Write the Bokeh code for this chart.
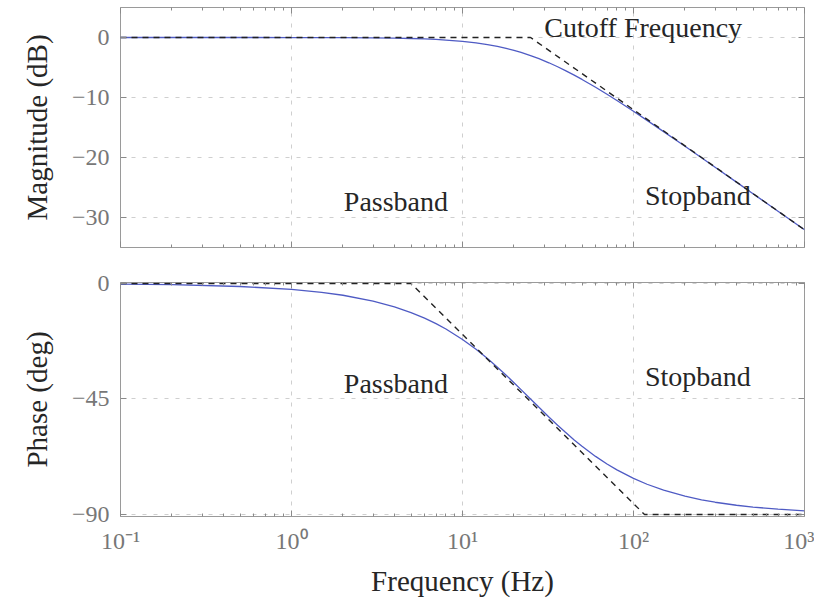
from bokeh.plotting import figure
from bokeh.layouts import column
from bokeh.models import (Range1d, FixedTicker, LogAxis, LinearAxis,
                          CustomJSTickFormatter)
from bokeh.core.properties import value
from bokeh.embed import file_html
from bokeh.resources import INLINE

# ---- data ----
freq_hz = [0.1, 0.2, 0.5, 1, 1.5, 2, 3, 4, 5, 6, 7, 8, 10, 12, 14, 16, 18, 20,
           22, 25, 28, 32, 36, 40, 45, 50, 60, 70, 80, 100, 120, 150, 200, 250,
           300, 400, 500, 700, 1000]
magnitude_db = [0.0, 0.0, -0.002, -0.007, -0.016, -0.028, -0.062, -0.11, -0.17,
                -0.243, -0.328, -0.423, -0.645, -0.9, -1.184, -1.492, -1.814,
                -2.148, -2.49, -3.01, -3.531, -4.213, -4.877, -5.515, -6.274,
                -6.99, -8.299, -9.464, -10.507, -12.304, -13.809, -15.682,
                -18.129, -20.043, -21.614, -24.1, -26.031, -28.949, -32.04]
phase_deg = [-0.23, -0.46, -1.15, -2.29, -3.43, -4.57, -6.84, -9.09, -11.31,
             -13.5, -15.64, -17.74, -21.8, -25.64, -29.25, -32.62, -35.75,
             -38.66, -41.35, -45.0, -48.24, -52.0, -55.22, -57.99, -60.95,
             -63.43, -67.38, -70.35, -72.65, -75.96, -78.23, -80.54, -82.87,
             -84.29, -85.24, -86.42, -87.14, -87.95, -88.57]
mag_asym_freq = [0.1, 25, 1000]
mag_asym_db = [0, 0, -32.04]
phase_asym_freq = [0.1, 5, 116, 1000]
phase_asym_deg = [0, 0, -90, -90]
mag_ticks = [-30, -20, -10, 0]
phase_ticks = [-90, -45, 0]
decade_ticks = [0.1, 1, 10, 100, 1000]

FONT = "Liberation Serif"
TICK_COLOR = "#8a8a8a"
LABEL_COLOR = "#777777"
CURVE_COLOR = "#4f5bc4"
TEXT_SIZE = "28px"

minor_x = [m * d for d in decade_ticks[:-1] for m in range(2, 10)]

X_CODE = """
const e = Math.round(Math.log10(tick));
const sup = {"-": "\\u207B", "0": "\\u2070", "1": "\\u00B9", "2": "\\u00B2", "3": "\\u00B3"};
let s = "";
for (const c of String(e)) { s += sup[c]; }
return "10" + s;
"""
Y_CODE = """
return tick < 0 ? "\\u2212" + Math.abs(tick) : String(tick);
"""


def style_axis(ax, show_labels):
    ax.axis_line_color = None
    ax.major_tick_in = 6
    ax.major_tick_out = 0
    ax.minor_tick_in = 3
    ax.minor_tick_out = 0
    ax.major_tick_line_color = TICK_COLOR
    ax.minor_tick_line_color = TICK_COLOR
    ax.major_label_text_font = FONT
    ax.major_label_text_color = LABEL_COLOR
    if show_labels:
        ax.major_label_text_font_size = "24px"
        ax.major_label_standoff = 11
    else:
        ax.major_label_text_font_size = "1px"
        ax.major_label_text_alpha = 0
        ax.major_label_standoff = 0
    ax.axis_label_text_font = FONT
    ax.axis_label_text_font_style = "normal"
    ax.axis_label_text_font_size = "29px"
    ax.axis_label_text_color = "#262626"
    ax.axis_label_standoff = 16


def make_fig(height, y_range, yticks, ylabel, show_x, border_top, border_bottom):
    p = figure(width=814, height=height, x_axis_type="log",
               x_range=Range1d(0.1, 1000), y_range=y_range,
               output_backend="svg", toolbar_location=None,
               min_border_left=120, min_border_right=10,
               min_border_top=border_top, min_border_bottom=border_bottom)
    p.outline_line_color = "#9a9a9a"
    p.outline_line_width = 1
    p.background_fill_color = "white"
    p.border_fill_color = "white"

    xa = p.xaxis[0]
    xa.ticker = FixedTicker(ticks=decade_ticks, minor_ticks=minor_x)
    xa.formatter = CustomJSTickFormatter(code=X_CODE)
    style_axis(xa, show_x)
    if show_x:
        xa.axis_label = "Frequency (Hz)"
        xa.axis_label_standoff = 8

    ya = p.yaxis[0]
    ya.ticker = FixedTicker(ticks=yticks)
    ya.formatter = CustomJSTickFormatter(code=Y_CODE)
    style_axis(ya, True)
    ya.axis_label = ylabel

    top = LogAxis(ticker=FixedTicker(ticks=decade_ticks, minor_ticks=minor_x))
    style_axis(top, False)
    p.add_layout(top, "above")
    right = LinearAxis(ticker=FixedTicker(ticks=yticks))
    style_axis(right, False)
    p.add_layout(right, "right")

    for g in (p.xgrid[0], p.ygrid[0]):
        g.grid_line_color = "#cfcfcf"
        g.grid_line_dash = "4 7"
        g.grid_line_width = 1
    p.xgrid[0].ticker = FixedTicker(ticks=decade_ticks)
    p.ygrid[0].ticker = FixedTicker(ticks=yticks)
    return p


p1 = make_fig(268, Range1d(-35, 5), mag_ticks, "Magnitude (dB)", False, 7, 21)
p1.line(freq_hz, magnitude_db, line_color=CURVE_COLOR, line_width=1.3)
p1.line(mag_asym_freq, mag_asym_db, line_color="#222222", line_width=1.4,
        line_dash="6 5")
p1.text(x=[114], y=[1.6], text=["Cutoff Frequency"], text_align="center",
        text_baseline="alphabetic", text_font=value(FONT),
        text_font_size=TEXT_SIZE, text_color="#262626")
p1.text(x=[4.08, 238], y=[-27.3, -26.3], text=["Passband", "Stopband"],
        text_align="center", text_baseline="alphabetic", text_font=value(FONT),
        text_font_size=TEXT_SIZE, text_color="#262626")

p2 = make_fig(331, Range1d(-90.8, 0.4), phase_ticks, "Phase (deg)", True, 14, 78)
p2.line(freq_hz, phase_deg, line_color=CURVE_COLOR, line_width=1.3)
p2.line(phase_asym_freq, phase_asym_deg, line_color="#222222", line_width=1.4,
        line_dash="6 5")
p2.text(x=[4.08, 238], y=[-38.8, -36.2], text=["Passband", "Stopband"],
        text_align="center", text_baseline="alphabetic", text_font=value(FONT),
        text_font_size=TEXT_SIZE, text_color="#262626")

layout = column(p1, p2, spacing=0)
open("out.html", "w").write(file_html(layout, INLINE))
